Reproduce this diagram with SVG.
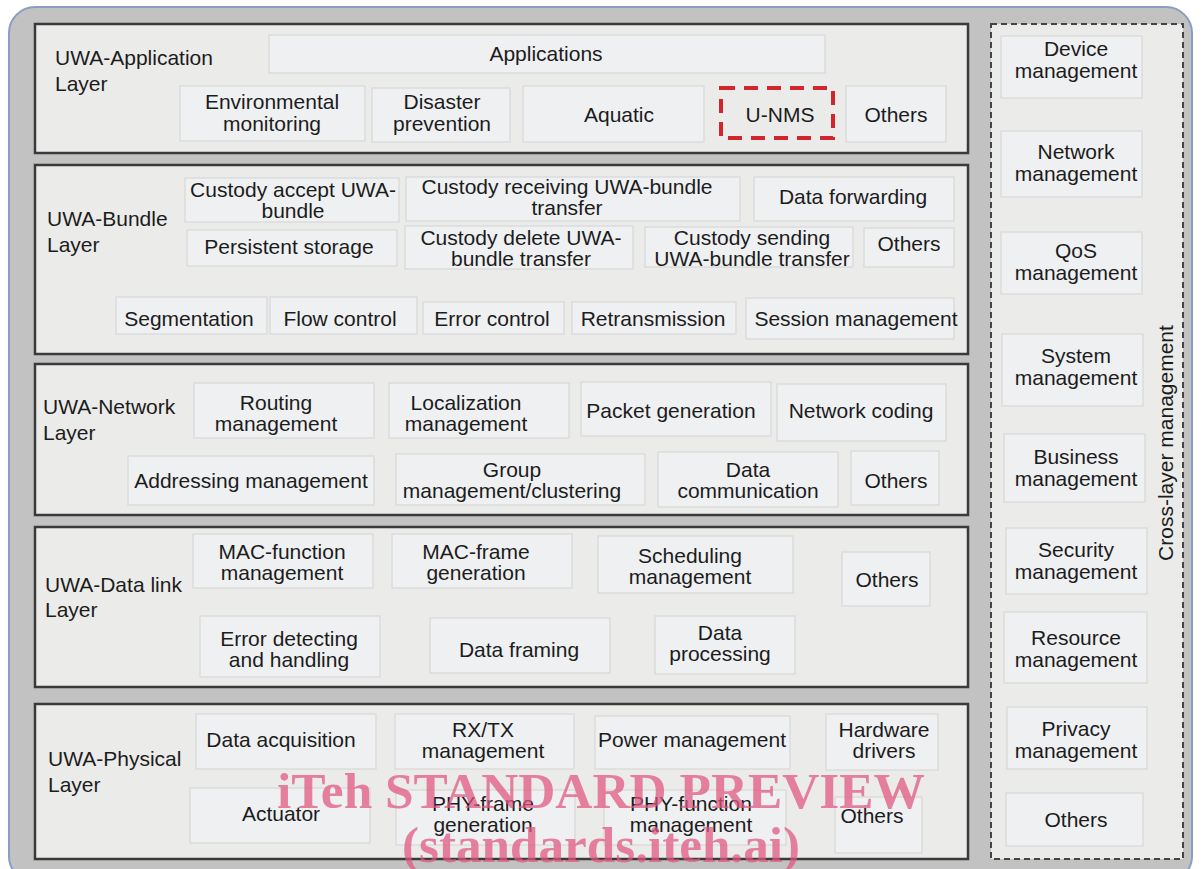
<svg xmlns="http://www.w3.org/2000/svg" width="1203" height="869" viewBox="0 0 1203 869">
  <defs>
    <style>
      .frame { fill: #c2c2c2; stroke: #8b9dc3; stroke-width: 2; }
      .layer { fill: #ebebea; stroke: #3a3a3a; stroke-width: 2.5; }
      .cross { fill: #ebebea; stroke: #444; stroke-width: 2; stroke-dasharray: 6 4; }
      .box { fill: #eff0f2; stroke: #dcdcdc; stroke-width: 1.5; }
      .hl { fill: none; stroke: #d1262e; stroke-width: 4; stroke-dasharray: 14 9; }
      text { font-family: "Liberation Sans", Arial, sans-serif; font-size: 21px; fill: #1c1c1c; }
      .c { text-anchor: middle; }
      .wm { font-family: "Liberation Serif", "Times New Roman", serif; font-weight: bold; font-size: 51px; fill: #e2557f; opacity: 0.72; text-anchor: middle; }
    </style>
  </defs>

  <!-- outer frame -->
  <rect class="frame" x="9" y="7" width="1183" height="875" rx="26" ry="26"/>

  <!-- layer panels -->
  <g id="layer-application">
    <rect class="layer" x="35" y="24" width="933" height="129"/>
    <text x="55" y="65">UWA-Application</text>
    <text x="55" y="91">Layer</text>
  </g>
  <g id="layer-bundle">
    <rect class="layer" x="35" y="165" width="933" height="189"/>
    <text x="47" y="226">UWA-Bundle</text>
    <text x="47" y="252">Layer</text>
  </g>
  <g id="layer-network">
    <rect class="layer" x="35" y="364" width="933" height="151"/>
    <text x="43" y="414">UWA-Network</text>
    <text x="43" y="440">Layer</text>
  </g>
  <g id="layer-datalink">
    <rect class="layer" x="35" y="527" width="933" height="160"/>
    <text x="45" y="592">UWA-Data link</text>
    <text x="45" y="617">Layer</text>
  </g>
  <g id="layer-physical">
    <rect class="layer" x="35" y="704" width="933" height="155"/>
    <text x="48" y="766">UWA-Physical</text>
    <text x="48" y="792">Layer</text>
  </g>
  <g id="layer-cross">
    <rect class="cross" x="991" y="24" width="192" height="835"/>
    <text class="c" transform="translate(1173 443) rotate(-90)">Cross-layer management</text>
  </g>

  <!-- application layer -->
  <g id="applications"><rect class="box" x="269" y="35" width="556" height="38"/><text class="c" x="546" y="61">Applications</text></g>
  <g id="env-monitoring"><rect class="box" x="180" y="86" width="185" height="55"/><text class="c" x="272" y="109">Environmental</text><text class="c" x="272" y="131">monitoring</text></g>
  <g id="disaster-prevention"><rect class="box" x="372" y="88" width="138" height="54"/><text class="c" x="442" y="109">Disaster</text><text class="c" x="442" y="131">prevention</text></g>
  <g id="aquatic"><rect class="box" x="523" y="86" width="181" height="56"/><text class="c" x="619" y="122">Aquatic</text></g>
  <g id="u-nms"><rect class="hl" x="721" y="88" width="112" height="50"/><text class="c" x="780" y="122">U-NMS</text></g>
  <g id="app-others"><rect class="box" x="846" y="86" width="100" height="56"/><text class="c" x="896" y="122">Others</text></g>

  <!-- bundle layer -->
  <g id="custody-accept"><rect class="box" x="185" y="178" width="214" height="44"/><text class="c" x="293" y="197">Custody accept UWA-</text><text class="c" x="293" y="218">bundle</text></g>
  <g id="custody-receiving"><rect class="box" x="406" y="177" width="334" height="44"/><text class="c" x="567" y="194">Custody receiving UWA-bundle</text><text class="c" x="567" y="215">transfer</text></g>
  <g id="data-forwarding"><rect class="box" x="754" y="177" width="200" height="44"/><text class="c" x="853" y="204">Data forwarding</text></g>
  <g id="persistent-storage"><rect class="box" x="187" y="230" width="210" height="36"/><text class="c" x="289" y="254">Persistent storage</text></g>
  <g id="custody-delete"><rect class="box" x="405" y="226" width="228" height="43"/><text class="c" x="521" y="245">Custody delete UWA-</text><text class="c" x="521" y="266">bundle transfer</text></g>
  <g id="custody-sending"><rect class="box" x="645" y="227" width="208" height="40"/><text class="c" x="752" y="245">Custody sending</text><text class="c" x="752" y="266">UWA-bundle transfer</text></g>
  <g id="bundle-others"><rect class="box" x="864" y="228" width="90" height="39"/><text class="c" x="909" y="251">Others</text></g>
  <g id="segmentation"><rect class="box" x="116" y="297" width="151" height="37"/><text class="c" x="189" y="326">Segmentation</text></g>
  <g id="flow-control"><rect class="box" x="270" y="297" width="147" height="37"/><text class="c" x="340" y="326">Flow control</text></g>
  <g id="error-control"><rect class="box" x="423" y="302" width="141" height="32"/><text class="c" x="492" y="326">Error control</text></g>
  <g id="retransmission"><rect class="box" x="572" y="302" width="164" height="32"/><text class="c" x="653" y="326">Retransmission</text></g>
  <g id="session-management"><rect class="box" x="746" y="298" width="208" height="41"/><text class="c" x="856" y="326">Session management</text></g>

  <!-- network layer -->
  <g id="routing-management"><rect class="box" x="194" y="383" width="180" height="55"/><text class="c" x="276" y="410">Routing</text><text class="c" x="276" y="431">management</text></g>
  <g id="localization-management"><rect class="box" x="389" y="383" width="180" height="55"/><text class="c" x="466" y="410">Localization</text><text class="c" x="466" y="431">management</text></g>
  <g id="packet-generation"><rect class="box" x="581" y="382" width="190" height="54"/><text class="c" x="671" y="418">Packet generation</text></g>
  <g id="network-coding"><rect class="box" x="777" y="384" width="169" height="57"/><text class="c" x="861" y="418">Network coding</text></g>
  <g id="addressing-management"><rect class="box" x="128" y="456" width="246" height="49"/><text class="c" x="251" y="488">Addressing management</text></g>
  <g id="group-management"><rect class="box" x="396" y="454" width="249" height="51"/><text class="c" x="512" y="477">Group</text><text class="c" x="512" y="498">management/clustering</text></g>
  <g id="data-communication"><rect class="box" x="658" y="452" width="180" height="55"/><text class="c" x="748" y="477">Data</text><text class="c" x="748" y="498">communication</text></g>
  <g id="network-others"><rect class="box" x="851" y="451" width="88" height="54"/><text class="c" x="896" y="488">Others</text></g>

  <!-- data link layer -->
  <g id="mac-function"><rect class="box" x="193" y="534" width="180" height="54"/><text class="c" x="282" y="559">MAC-function</text><text class="c" x="282" y="580">management</text></g>
  <g id="mac-frame"><rect class="box" x="392" y="534" width="180" height="54"/><text class="c" x="476" y="559">MAC-frame</text><text class="c" x="476" y="580">generation</text></g>
  <g id="scheduling-management"><rect class="box" x="598" y="536" width="195" height="57"/><text class="c" x="690" y="563">Scheduling</text><text class="c" x="690" y="584">management</text></g>
  <g id="datalink-others"><rect class="box" x="842" y="552" width="88" height="54"/><text class="c" x="887" y="587">Others</text></g>
  <g id="error-detecting"><rect class="box" x="200" y="616" width="180" height="61"/><text class="c" x="289" y="646">Error detecting</text><text class="c" x="289" y="667">and handling</text></g>
  <g id="data-framing"><rect class="box" x="430" y="618" width="180" height="55"/><text class="c" x="519" y="657">Data framing</text></g>
  <g id="data-processing"><rect class="box" x="655" y="616" width="140" height="58"/><text class="c" x="720" y="640">Data</text><text class="c" x="720" y="661">processing</text></g>

  <!-- physical layer -->
  <g id="data-acquisition"><rect class="box" x="196" y="714" width="180" height="55"/><text class="c" x="281" y="747">Data acquisition</text></g>
  <g id="rxtx-management"><rect class="box" x="395" y="714" width="179" height="55"/><text class="c" x="483" y="737">RX/TX</text><text class="c" x="483" y="758">management</text></g>
  <g id="power-management"><rect class="box" x="595" y="716" width="195" height="53"/><text class="c" x="692" y="747">Power management</text></g>
  <g id="hardware-drivers"><rect class="box" x="826" y="714" width="112" height="56"/><text class="c" x="884" y="737">Hardware</text><text class="c" x="884" y="758">drivers</text></g>
  <g id="actuator"><rect class="box" x="190" y="788" width="180" height="55"/><text class="c" x="281" y="821">Actuator</text></g>
  <g id="phy-frame"><rect class="box" x="396" y="790" width="179" height="55"/><text class="c" x="483" y="811">PHY-frame</text><text class="c" x="483" y="832">generation</text></g>
  <g id="phy-function"><rect class="box" x="604" y="790" width="182" height="55"/><text class="c" x="691" y="811">PHY-function</text><text class="c" x="691" y="832">management</text></g>
  <g id="physical-others"><rect class="box" x="835" y="797" width="87" height="56"/><text class="c" x="872" y="823">Others</text></g>

  <!-- cross-layer management -->
  <g id="device-management"><rect class="box" x="1001" y="36" width="141" height="62"/><text class="c" x="1076" y="56">Device</text><text class="c" x="1076" y="78">management</text></g>
  <g id="network-management"><rect class="box" x="1001" y="131" width="141" height="66"/><text class="c" x="1076" y="159">Network</text><text class="c" x="1076" y="181">management</text></g>
  <g id="qos-management"><rect class="box" x="1001" y="232" width="141" height="62"/><text class="c" x="1076" y="258">QoS</text><text class="c" x="1076" y="280">management</text></g>
  <g id="system-management"><rect class="box" x="1002" y="334" width="141" height="72"/><text class="c" x="1076" y="363">System</text><text class="c" x="1076" y="385">management</text></g>
  <g id="business-management"><rect class="box" x="1004" y="434" width="141" height="68"/><text class="c" x="1076" y="464">Business</text><text class="c" x="1076" y="486">management</text></g>
  <g id="security-management"><rect class="box" x="1006" y="528" width="141" height="66"/><text class="c" x="1076" y="557">Security</text><text class="c" x="1076" y="579">management</text></g>
  <g id="resource-management"><rect class="box" x="1004" y="612" width="143" height="71"/><text class="c" x="1076" y="645">Resource</text><text class="c" x="1076" y="667">management</text></g>
  <g id="privacy-management"><rect class="box" x="1007" y="707" width="140" height="62"/><text class="c" x="1076" y="736">Privacy</text><text class="c" x="1076" y="758">management</text></g>
  <g id="cross-others"><rect class="box" x="1006" y="793" width="137" height="53"/><text class="c" x="1076" y="827">Others</text></g>

  <!-- connectors: none in this layered chart -->
  <g id="connectors"></g>

  <!-- overlay stamp -->
  <text class="wm" x="601" y="808" textLength="648" lengthAdjust="spacingAndGlyphs">iTeh STANDARD PREVIEW</text>
  <text class="wm" x="601" y="862" textLength="398" lengthAdjust="spacingAndGlyphs">(standards.iteh.ai)</text>
</svg>
